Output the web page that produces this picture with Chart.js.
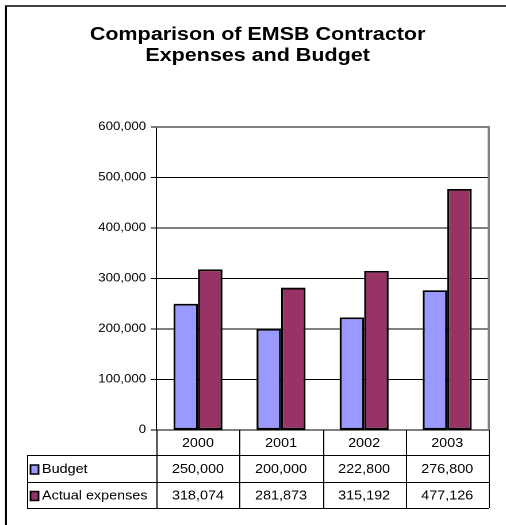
<!DOCTYPE html>
<html>
<head>
<meta charset="utf-8">
<script src="https://cdn.jsdelivr.net/npm/chart.js@4"></script>
<style>
    html, body { margin: 0; padding: 0; background: #fff; overflow: hidden; }
    #wrap { width: 440px; height: 525px; transform: scaleX(1.15); transform-origin: 0 0; }
    #c { width: 440px; height: 525px; }
</style>
</head>
<body>
<div id="wrap"><canvas id="c" width="440" height="525"></canvas></div>
<script>
var years = ['2000', '2001', '2002', '2003'];
var budget = [250000, 200000, 222800, 276800];
var actual = [318074, 281873, 315192, 477126];
var seriesNames = ['Budget', 'Actual expenses'];
var seriesColors = ['#9999ff', '#993366'];
var titleLines = ['Comparison of EMSB Contractor', 'Expenses and Budget'];

var FONT = '"Liberation Sans", Arial, sans-serif';

function fmt(v) {
    return v.toLocaleString('en-US');
}

// draws the frame, title, plot border and the data table under the chart
var extras = {
    id: 'extras',
    beforeDraw: function(chart) {
        var ctx = chart.ctx;
        ctx.save();
        ctx.fillStyle = '#fff';
        ctx.fillRect(0, 0, chart.width, chart.height);
        ctx.strokeStyle = '#000';
        ctx.lineWidth = 1.6;
        ctx.beginPath();
        ctx.moveTo(5.2, chart.height + 5);
        ctx.lineTo(5.2, 6);
        ctx.lineTo(chart.width + 5, 6);
        ctx.stroke();
        ctx.restore();
    },
    afterDraw: function(chart) {
        var ctx = chart.ctx;
        var area = chart.chartArea;
        var xs = chart.scales.x;
        ctx.save();

        // title
        ctx.fillStyle = '#000';
        ctx.font = 'bold 18.7px ' + FONT;
        ctx.textAlign = 'center';
        ctx.textBaseline = 'alphabetic';
        ctx.fillText(titleLines[0], 224, 40);
        ctx.fillText(titleLines[1], 224, 61);

        // plot border top / right
        ctx.strokeStyle = '#808080';
        ctx.lineWidth = 2;
        ctx.beginPath();
        ctx.moveTo(area.left, area.top);
        ctx.lineTo(area.right, area.top);
        ctx.lineTo(area.right, area.bottom);
        ctx.stroke();

        // data table
        var rows = [area.bottom, 455, 482, 508];
        var labelLeft = 23.5;
        var cw = (area.right - area.left) / years.length;
        ctx.strokeStyle = '#000';
        ctx.lineWidth = 1;
        ctx.beginPath();
        for (var i = 0; i <= years.length; i++) {
            var x = Math.round(area.left + i * cw) + 0.5;
            ctx.moveTo(x, rows[0]);
            ctx.lineTo(x, rows[3]);
        }
        for (var r = 1; r < rows.length; r++) {
            ctx.moveTo(labelLeft, rows[r] + 0.5);
            ctx.lineTo(area.right, rows[r] + 0.5);
        }
        ctx.moveTo(labelLeft + 0.5, rows[1]);
        ctx.lineTo(labelLeft + 0.5, rows[3]);
        ctx.stroke();

        var data = [budget, actual];
        ctx.font = '12.5px ' + FONT;
        ctx.textBaseline = 'middle';
        for (var s = 0; s < data.length; s++) {
            var cy = (rows[s + 1] + rows[s + 2]) / 2 + 1;
            // legend key
            ctx.fillStyle = seriesColors[s];
            ctx.fillRect(26.5, cy - 4.5, 7, 9);
            ctx.strokeStyle = '#000';
            ctx.lineWidth = 1.5;
            ctx.strokeRect(26.5, cy - 4.5, 7, 9);
            ctx.fillStyle = '#000';
            ctx.textAlign = 'left';
            ctx.fillText(seriesNames[s], 36.5, cy);
            ctx.textAlign = 'center';
            for (var k = 0; k < years.length; k++) {
                ctx.fillText(fmt(data[s][k]), xs.getPixelForValue(k), cy);
            }
        }
        ctx.restore();
    }
};

new Chart(document.getElementById('c'), {
    type: 'bar',
    data: {
        labels: years,
        datasets: [
            { label: seriesNames[0], data: budget, backgroundColor: seriesColors[0] },
            { label: seriesNames[1], data: actual, backgroundColor: seriesColors[1] }
        ]
    },
    options: {
        responsive: false,
        animation: false,
        devicePixelRatio: 2,
        layout: { padding: { top: 127, right: 15, left: 0, bottom: 0 } },
        datasets: {
            bar: {
                borderColor: '#000',
                borderWidth: 1.8,
                borderSkipped: false,
                categoryPercentage: 0.59,
                barPercentage: 1
            }
        },
        plugins: {
            legend: { display: false },
            title: { display: false },
            tooltip: { enabled: false }
        },
        scales: {
            x: {
                grid: { display: false, drawTicks: false },
                border: { display: true, color: '#000', width: 1 },
                ticks: { color: '#000', padding: 6, font: { family: FONT, size: 12.5 } },
                afterFit: function(scale) { scale.height = 95; }
            },
            y: {
                min: 0,
                max: 600000,
                ticks: {
                    stepSize: 100000,
                    color: '#000',
                    padding: 4,
                    font: { family: FONT, size: 11.5 },
                    callback: function(v) { return fmt(v); }
                },
                grid: { color: '#000', lineWidth: 1, tickLength: 5 },
                border: { display: true, color: '#000', width: 1 },
                afterFit: function(scale) { scale.width = 136; }
            }
        }
    },
    plugins: [extras]
});
</script>
</body>
</html>
